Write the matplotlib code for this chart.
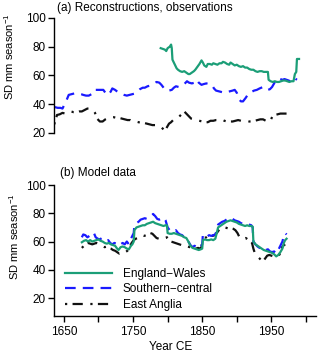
import numpy as np
import matplotlib
matplotlib.use("Agg")
import matplotlib.pyplot as plt
from matplotlib.ticker import FixedLocator, NullFormatter

plt.rcParams['font.family'] = ['Liberation Sans', 'DejaVu Sans']
plt.rcParams['mathtext.fontset'] = 'custom'
plt.rcParams['mathtext.rm'] = 'Liberation Sans'
plt.rcParams['mathtext.it'] = 'Liberation Sans:italic'
plt.rcParams['mathtext.bf'] = 'Liberation Sans:bold'
plt.rcParams['axes.linewidth'] = 1.0

GREEN = '#1b9e77'
BLUE = '#1a1aff'
BLACK = '#111111'
FS = 8.5

# ---- (a) reconstructions, observations ----
ew_obs_yr = [1790, 1793, 1796, 1798, 1800, 1803, 1805, 1806, 1807, 1809, 1811, 1813, 1815, 1818,
             1821, 1824, 1827, 1830, 1832, 1835, 1838, 1840, 1843, 1846, 1849, 1851, 1853, 1856,
             1858, 1861, 1864, 1866, 1869, 1872, 1875, 1878, 1880, 1883, 1886, 1889, 1891, 1894,
             1897, 1900, 1903, 1906, 1909, 1912, 1915, 1918, 1921, 1924, 1927, 1930, 1933, 1936,
             1939, 1942, 1945, 1946, 1949, 1952, 1955, 1958, 1961, 1964, 1967, 1970, 1973, 1976,
             1979, 1982, 1984, 1986, 1987, 1990]
ew_obs_sd = [79, 78.5, 78, 77, 79, 80, 81.5, 79, 71, 69, 67, 65, 64, 63,
             62.5, 63, 62, 61, 61, 62, 63, 64, 66, 68, 70.5, 69, 67, 66,
             68, 68, 67.5, 68.5, 68, 67.5, 68.5, 68.5, 69.5, 69, 68, 67.5, 69, 68,
             67, 67.5, 66.5, 66, 66.5, 65.5, 65.5, 64.5, 64, 64, 63, 62.5, 63, 63,
             62.5, 62.5, 62.5, 57, 56, 55.5, 56, 55.5, 55.5, 56, 56.5, 56.5, 56, 55.5,
             56, 56, 61, 62.5, 71.5, 71.5]

sc_rec_yr = [1637, 1641, 1645, 1648, 1651, 1654, 1657, 1661, 1665, 1668, 1671, 1675, 1678, 1682,
             1686, 1690, 1693, 1695, 1699, 1703, 1707, 1710, 1712, 1715, 1718, 1720, 1724, 1728,
             1732, 1737, 1741, 1745, 1749, 1753, 1757, 1760, 1764, 1767, 1771, 1775, 1779, 1784,
             1788, 1791, 1795, 1798, 1802, 1806, 1809, 1812, 1816, 1820, 1823, 1826, 1828, 1831,
             1835, 1839, 1842, 1845, 1849, 1852, 1856, 1860, 1864, 1867, 1870, 1874, 1878, 1882,
             1886, 1890, 1894, 1897, 1900, 1903, 1906, 1909, 1913, 1917, 1921, 1925, 1929, 1933,
             1938, 1942, 1945, 1948, 1951, 1954, 1957, 1960, 1963, 1966, 1969, 1972, 1975, 1979,
             1982, 1984, 1987]
sc_rec_sd = [38, 37.5, 37.5, 37, 40, 43, 46.5, 47, 47.5, 47.5, 47.5, 47, 46.5, 46,
             46, 47, 47.5, 50, 50, 50, 50, 48, 46.5, 47, 49, 51, 50, 48.5,
             47.5, 46.5, 46, 46.5, 47, 47.5, 49, 50.5, 51.5, 51.5, 52.5, 53, 54, 55.5,
             55, 53.5, 51, 49.5, 49.5, 50, 51.5, 52.5, 52, 53, 53.5, 55, 56, 55,
             54.5, 55, 57, 55, 53.5, 54, 54.5, 54, 53.5, 51, 49.5, 49, 48.5, 48,
             48.5, 49, 49.5, 50, 48, 43.5, 42, 42, 44.5, 47.5, 48.5, 49.5, 50, 51,
             52, 51.5, 50, 50.5, 52, 54.5, 57, 58, 57.5, 57, 57.5, 57, 56.5, 55.5,
             57, 58, 57]

ea_rec_yr = [1636, 1638, 1640, 1644, 1648, 1652, 1656, 1660, 1664, 1668, 1672, 1676, 1680, 1684,
             1688, 1692, 1695, 1698, 1702, 1706, 1710, 1714, 1718, 1722, 1726, 1730, 1734, 1738,
             1742, 1746, 1750, 1754, 1758, 1762, 1766, 1770, 1774, 1778, 1782, 1786, 1790, 1793,
             1796, 1799, 1802, 1805, 1808, 1812, 1816, 1820, 1824, 1827, 1830, 1834, 1838, 1842,
             1846, 1850, 1854, 1858, 1862, 1866, 1870, 1874, 1878, 1882, 1886, 1890, 1894, 1898,
             1902, 1906, 1910, 1914, 1918, 1922, 1926, 1930, 1934, 1938, 1942, 1946, 1949, 1952,
             1955, 1959, 1963, 1967, 1971, 1975, 1979, 1982]
ea_rec_sd = [26, 29, 32.5, 33, 34, 33.5, 34, 35, 34.5, 34.5, 35, 35, 36, 37,
             37, 36, 34, 30, 28, 28, 29.5, 30.5, 31, 31, 30.5, 30.5, 30, 29.5,
             29, 29, 28, 28, 27.5, 27, 27, 26.5, 26, 25.5, 25.5, 25, 24.5, 23,
             21.5, 24, 26.5, 27.5, 29, 30, 31, 33, 35, 33.5, 32, 30, 29.5, 29,
             28.5, 28, 27.5, 27.5, 28.5, 28.5, 29, 29, 29.5, 28.5, 28, 28, 28, 28.5,
             29, 28.5, 28.5, 28.5, 28, 28, 28.5, 29, 29.5, 29.5, 28.5, 27.5, 29, 32,
             32.5, 33, 33.5, 33.5, 33.5, 33.5, 34, 33.5]

# ---- (b) model data ----
ew_mod_yr = [1676, 1679, 1682, 1685, 1688, 1691, 1694, 1697, 1700, 1703, 1706, 1709, 1712, 1715,
             1718, 1721, 1724, 1727, 1729, 1732, 1735, 1738, 1741, 1744, 1747, 1749, 1751, 1752,
             1755, 1758, 1761, 1764, 1767, 1770, 1773, 1776, 1779, 1782, 1785, 1788, 1791, 1794,
             1797, 1799, 1800, 1803, 1806, 1809, 1812, 1815, 1818, 1821, 1824, 1827, 1830, 1833,
             1836, 1839, 1842, 1845, 1848, 1850, 1851, 1854, 1857, 1860, 1863, 1866, 1869, 1871,
             1873, 1876, 1879, 1882, 1885, 1888, 1891, 1894, 1897, 1900, 1903, 1906, 1909, 1912,
             1915, 1918, 1921, 1923, 1924, 1927, 1930, 1933, 1936, 1939, 1942, 1945, 1948, 1951,
             1954, 1957, 1960, 1963, 1966, 1968, 1970, 1972]
ew_mod_sd = [59.5, 60.5, 61, 60, 61, 60, 60.5, 61, 61.5, 60.5, 60, 59, 58.5, 59,
             58, 57.5, 57, 55, 54, 56, 56.5, 56, 55, 54.5, 57, 58, 60, 68,
             70, 70.5, 71, 71.5, 71.5, 72.5, 73, 73.5, 74, 73, 72.5, 72, 71.5, 71,
             71.5, 71.5, 66, 65.5, 65.5, 66, 65.5, 65, 64.5, 64, 63, 62.5, 60, 57,
             55.5, 55, 54.5, 54, 54.5, 55, 61, 61.5, 61, 61, 61.5, 61, 62, 66,
             70, 71, 72, 73, 74, 74.5, 75, 74.5, 74, 73.5, 72.5, 72, 71.5, 71,
             71.5, 71, 71, 70.5, 60, 58, 57, 56, 55, 54, 53.5, 53, 52.5, 52,
             51, 49.5, 50.5, 52.5, 55, 59, 61, 62]

sc_mod_yr = [1676, 1678, 1681, 1684, 1687, 1690, 1693, 1696, 1699, 1702, 1705, 1708, 1711, 1714,
             1717, 1720, 1723, 1726, 1729, 1732, 1735, 1738, 1741, 1744, 1747, 1749, 1751, 1752,
             1755, 1758, 1761, 1764, 1767, 1770, 1773, 1776, 1779, 1782, 1785, 1788, 1791, 1794,
             1797, 1800, 1803, 1806, 1809, 1812, 1815, 1818, 1821, 1824, 1827, 1830, 1833, 1836,
             1839, 1842, 1845, 1848, 1850, 1851, 1854, 1857, 1860, 1863, 1866, 1869, 1871, 1873,
             1876, 1879, 1882, 1885, 1888, 1891, 1894, 1897, 1900, 1903, 1906, 1909, 1912, 1915,
             1918, 1921, 1923, 1924, 1927, 1930, 1933, 1936, 1939, 1942, 1945, 1948, 1951, 1954,
             1957, 1960, 1963, 1966, 1968, 1970, 1972]
sc_mod_sd = [63, 65, 64.5, 63, 64, 65.5, 66.5, 63, 62, 61.5, 62.5, 61, 60.5, 61,
             59, 58, 59, 58.5, 57, 58, 59, 58, 60, 58, 62, 64, 66, 72,
             73, 74, 75.5, 76, 76.5, 76, 77, 78, 79.5, 78, 76, 75.5, 76, 77,
             75, 70, 68, 67, 67, 68, 66, 65, 64.5, 63, 62, 60, 57.5, 56,
             57, 56, 55, 56, 58, 65, 64, 63.5, 64.5, 64, 64.5, 65, 68, 72,
             73, 74, 74.5, 75.5, 76.5, 77, 76, 75, 74.5, 74, 73, 72.5, 72, 72.5,
             72, 71.5, 70, 60, 58, 56.5, 55.5, 56, 55, 54, 54.5, 53, 52.5, 53,
             51.5, 54, 57, 60, 64, 66, 65]

ea_mod_yr = [1676, 1679, 1682, 1685, 1688, 1691, 1694, 1697, 1700, 1703, 1706, 1709, 1712, 1715,
             1718, 1721, 1724, 1727, 1730, 1733, 1736, 1739, 1742, 1745, 1748, 1751, 1754, 1757,
             1760, 1763, 1766, 1769, 1772, 1775, 1778, 1781, 1784, 1787, 1790, 1793, 1796, 1799,
             1802, 1805, 1808, 1811, 1814, 1817, 1820, 1823, 1826, 1829, 1832, 1835, 1838, 1841,
             1844, 1847, 1849, 1850, 1853, 1856, 1859, 1862, 1865, 1868, 1871, 1874, 1877, 1880,
             1883, 1886, 1889, 1892, 1895, 1898, 1901, 1904, 1907, 1910, 1913, 1916, 1919, 1922,
             1924, 1926, 1929, 1932, 1935, 1938, 1941, 1944, 1947, 1950, 1953, 1956, 1959, 1962,
             1964, 1967, 1970]
ea_mod_sd = [55.5, 57, 58.5, 59, 58.5, 58, 58.5, 59, 58.5, 57.5, 57, 56, 56.5, 55.5,
             55, 54, 53.5, 52.5, 51.5, 52.5, 53, 52.5, 53.5, 56, 59, 61, 62, 62.5,
             63.5, 64.5, 64, 64.5, 65, 66, 65.5, 64, 62.5, 62, 61.5, 62, 62.5, 63,
             61.5, 60, 59.5, 59, 58.5, 58, 57.5, 56.5, 56, 56.5, 56, 55.5, 55, 55,
             55.5, 55, 56, 61, 62.5, 63, 64, 64.5, 64, 64.5, 66, 68, 69.5, 70.5,
             70, 69.5, 69, 69.5, 69, 68, 66, 63, 62, 62, 62.5, 61.5, 60.5, 59,
             55, 52, 50, 48.5, 47, 46, 48, 50, 50.5, 50, 49.5, 49.5, 49, 51,
             55, 57, 58]

labels = ['England\u2212Wales', 'Southern\u2212central', 'East Anglia']

fig = plt.figure(figsize=(3.2, 3.54), dpi=100)
ax1 = fig.add_axes([0.1672, 0.6243, 0.8213, 0.3249])
ax2 = fig.add_axes([0.1672, 0.1073, 0.8213, 0.3701])

lw = 1.6
dash_blue = (4.8, 3.2)
dash_black = (1, 2.4, 4.6, 3.4)


def draw(ax, ew, sc, ea):
    ax.plot(*ew, color=GREEN, lw=lw, label=labels[0], zorder=3)
    ax.plot(*sc, color=BLUE, lw=lw, dashes=dash_blue, label=labels[1], zorder=2)
    ax.plot(*ea, color=BLACK, lw=lw, dashes=dash_black, label=labels[2], zorder=1)


draw(ax1, (ew_obs_yr, ew_obs_sd), (sc_rec_yr, sc_rec_sd), (ea_rec_yr, ea_rec_sd))
draw(ax2, (ew_mod_yr, ew_mod_sd), (sc_mod_yr, sc_mod_sd), (ea_mod_yr, ea_mod_sd))

for ax in (ax1, ax2):
    ax.set_xlim(1635, 2015)
    ax.spines['top'].set_visible(False)
    ax.spines['right'].set_visible(False)
    ax.set_yticks([20, 40, 60, 80, 100])
    ax.tick_params(axis='both', direction='out', length=4, width=1, labelsize=FS, pad=1.5)
    ax.tick_params(which='minor', direction='out', length=4, width=1)
    ax.set_ylabel('SD mm season$^{-1}$', fontsize=8)

ax1.set_ylim(20, 100)
ax1.spines['bottom'].set_visible(False)
ax1.set_xticks([])
ax1.yaxis.set_label_coords(-0.143, 0.665)

ax2.set_ylim(7.3, 100)
ax2.spines['left'].set_bounds(7.3, 100)
ax2.set_xticks([1650, 1750, 1850, 1950])
ax2.xaxis.set_minor_locator(FixedLocator([1700, 1800, 1900, 2000]))
ax2.xaxis.set_minor_formatter(NullFormatter())
ax2.tick_params(axis='x', pad=3.5)
ax2.set_xlabel('Year CE', fontsize=FS)
ax2.xaxis.set_label_coords(0.445, -0.19)
ax2.yaxis.set_label_coords(-0.122, 0.605)

ax2.legend(loc='lower left', bbox_to_anchor=(0.015, -0.015), frameon=False, fontsize=FS,
           handlelength=4.0, handletextpad=0.95, labelspacing=0.3, borderaxespad=0.2)

fig.text(0.178, 0.976, '(a) Reconstructions, observations', fontsize=FS, va='center', ha='left')
fig.text(0.187, 0.511, '(b) Model data', fontsize=FS, va='center', ha='left')

fig.savefig('out.png', dpi=100)
